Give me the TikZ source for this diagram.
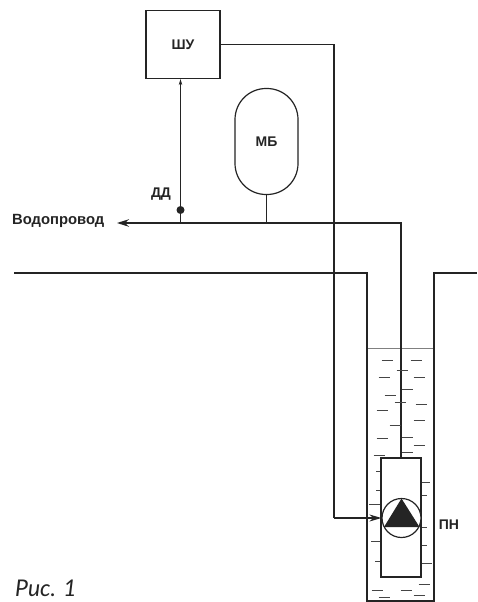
\documentclass[tikz,border=0pt]{standalone}
\usepackage{fontspec}
\setmainfont{Liberation Sans}
\newfontfamily\captionfont{Lato}
\usetikzlibrary{arrows.meta, positioning}

\definecolor{inkline}{gray}{0.14}

\tikzset{
    wire/.style={draw=inkline, line width=1.2pt},
    label/.style={font=\bfseries\fontsize{14}{14}\selectfont, text=inkline, inner sep=0pt},
    wave/.style={draw=inkline!85, line width=0.9pt},
}

\begin{document}
\begin{tikzpicture}[x=1pt, y=-1pt]
    \useasboundingbox (0,0) rectangle (477,602);

    % Земля и скважина
    \draw[inkline, line width=2.8pt] (14,273) -- (367,273) -- (367,601) -- (434,601) -- (434,273) -- (477,273);
    \draw[gray, line width=1pt] (368,348) -- (433,348);

    % Блоки
    \node[wire, minimum width=74pt, minimum height=68pt, inner sep=0pt] (shu) at (183,44.5) {};
    \node[label] at (shu.center) {ШУ};
    \node[wire, rounded corners=31pt, minimum width=63pt, minimum height=106pt, inner sep=0pt] (mb) at (266.5,141.5) {};
    \node[label] at (mb.center) {МБ};
    \node[wire, minimum width=40pt, minimum height=119pt, inner sep=0pt] (box) at (401,517.5) {};
    \node[wire, circle, fill=white, minimum size=39pt, inner sep=0pt] (pump) at (401.5,518) {};
    \fill[inkline] (401.5,498.5) -- (419.5,527) -- (384,527) -- cycle;

    % Точки на линиях
    \coordinate (pipeR) at (401,223);
    \coordinate (pipeL) at (117,223);
    \coordinate (tapMB) at (mb.south |- pipeR);
    \node[circle, fill=inkline, minimum size=8pt, inner sep=0pt] (dd) at (180.5,210) {};
    \coordinate (tapDD) at (dd |- pipeR);
    \coordinate (bend) at (334,518);

    % Линии
    \draw[wire, -{Stealth[length=12pt, width=7.5pt]}] (box.north) -- (pipeR) -- (pipeL);
    \draw[wire] (mb.south) -- (tapMB);
    \draw[wire] (dd) -- (tapDD);
    \draw[inkline, line width=0.6pt, -{Stealth[length=6pt, width=3.5pt]}] (dd) -- (dd |- shu.south);
    \draw[wire] (shu.east) -| (bend);
    \draw[wire, -{Stealth[length=12pt, width=7pt]}] (bend) -- (pump.west);

    % Вода
    \foreach \x/\y in {387/360, 416/360, 402/370, 384/377, 419/377, 407/389, 390/395, 400/402, 421/404,
                       382/410, 419/420, 395/425, 407/437, 382/438, 419/445, 407/452, 379/455,
                       377/590, 406/590, 384/597, 424/584, 419/595}
        \draw[wave] (\x-5.5,\y) -- (\x+5.5,\y);
    \foreach \x/\y/\r in {376/471/380, 376/490/380, 369/504/380, 371/541/380, 375/561/380}
        \draw[wave] (\x,\y) -- (\r,\y);
    \foreach \y/\r in {482/430, 495/427, 527/427, 545/427, 563/432}
        \draw[wave] (422,\y) -- (\r,\y);

    % Подписи
    \node[label, anchor=west, font=\bfseries\fontsize{14.8}{14.8}\selectfont] (water) at (12,220.5) {Водопровод};
    \node[label] (ddlabel) at (161,194.5) {ДД};
    \node[label] (pnlabel) at (449,525) {ПН};
    \node[anchor=base west, inner sep=0pt, text=inkline, font=\captionfont\itshape\fontsize{23}{23}\selectfont] (fig) at (15,596) {Рис. 1};
\end{tikzpicture}
\end{document}
